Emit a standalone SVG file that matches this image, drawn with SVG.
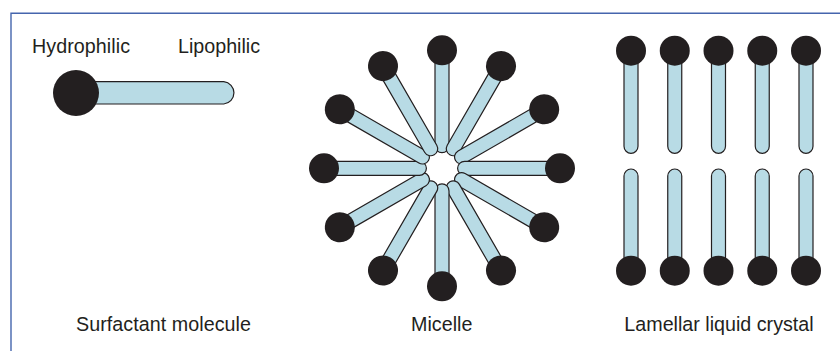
<svg xmlns="http://www.w3.org/2000/svg" xmlns:xlink="http://www.w3.org/1999/xlink" width="840" height="351" viewBox="0 0 840 351">
  <style>
    .frame { fill: none; stroke: #4565ad; stroke-width: 1.4; }
    .tail { fill: #b8dbe5; stroke: #231f20; stroke-width: 1.2; }
    .head { fill: #231f20; }
    .label { font-family: "Liberation Sans", Arial, sans-serif; font-size: 19.7px; fill: #231f20; }
  </style>
  <defs>
    <!-- one micelle arm, pointing up from the micelle centre -->
    <g id="arm">
      <path class="tail" d="M-7,-118 V-22.6 A7,7 0 0 0 7,-22.6 V-118 Z"/>
    </g>
    <circle id="armHead" class="head" cx="0" cy="-118" r="15"/>
    <!-- lamellar molecules: head up / head down -->
    <g id="lamTop">
      <path class="tail" d="M-7,50.7 V146.3 A7,7 0 0 0 7,146.3 V50.7 Z"/>
      <circle class="head" cx="0" cy="50.7" r="15"/>
    </g>
    <g id="lamBottom">
      <path class="tail" d="M-7,270.7 V176 A7,7 0 0 1 7,176 V270.7 Z"/>
      <circle class="head" cx="0" cy="270.7" r="15"/>
    </g>
  </defs>

  <rect width="840" height="351" fill="#ffffff"/>

  <!-- frame (top and left edges) -->
  <path class="frame" d="M11,351 V13.3 H840"/>

  <!-- single surfactant molecule -->
  <g id="surfactant">
    <path class="tail" d="M76,81.7 H223.8 A11.2,11.2 0 0 1 223.8,104 H76 Z"/>
    <circle class="head" cx="76" cy="93" r="23"/>
    <text class="label" x="32" y="52.5" textLength="98">Hydrophilic</text>
    <text class="label" x="178" y="52.5">Lipophilic</text>
    <text class="label" x="76" y="331" textLength="175">Surfactant molecule</text>
  </g>

  <!-- micelle: twelve arms every 30 degrees -->
  <g id="micelle">
    <g transform="translate(442,168.3)">
      <use xlink:href="#arm" transform="rotate(0)"/>
      <use xlink:href="#arm" transform="rotate(30)"/>
      <use xlink:href="#arm" transform="rotate(60)"/>
      <use xlink:href="#arm" transform="rotate(90)"/>
      <use xlink:href="#arm" transform="rotate(120)"/>
      <use xlink:href="#arm" transform="rotate(150)"/>
      <use xlink:href="#arm" transform="rotate(180)"/>
      <use xlink:href="#arm" transform="rotate(210)"/>
      <use xlink:href="#arm" transform="rotate(240)"/>
      <use xlink:href="#arm" transform="rotate(270)"/>
      <use xlink:href="#arm" transform="rotate(300)"/>
      <use xlink:href="#arm" transform="rotate(330)"/>
      <use xlink:href="#armHead" transform="rotate(0)"/>
      <use xlink:href="#armHead" transform="rotate(30)"/>
      <use xlink:href="#armHead" transform="rotate(60)"/>
      <use xlink:href="#armHead" transform="rotate(90)"/>
      <use xlink:href="#armHead" transform="rotate(120)"/>
      <use xlink:href="#armHead" transform="rotate(150)"/>
      <use xlink:href="#armHead" transform="rotate(180)"/>
      <use xlink:href="#armHead" transform="rotate(210)"/>
      <use xlink:href="#armHead" transform="rotate(240)"/>
      <use xlink:href="#armHead" transform="rotate(270)"/>
      <use xlink:href="#armHead" transform="rotate(300)"/>
      <use xlink:href="#armHead" transform="rotate(330)"/>
    </g>
    <text class="label" x="441.7" y="331" text-anchor="middle">Micelle</text>
  </g>

  <!-- lamellar liquid crystal: two facing layers of five molecules -->
  <g id="lamellar">
    <use xlink:href="#lamTop" x="631"/>
    <use xlink:href="#lamTop" x="674.75"/>
    <use xlink:href="#lamTop" x="718.5"/>
    <use xlink:href="#lamTop" x="762.25"/>
    <use xlink:href="#lamTop" x="806"/>
    <use xlink:href="#lamBottom" x="631"/>
    <use xlink:href="#lamBottom" x="674.75"/>
    <use xlink:href="#lamBottom" x="718.5"/>
    <use xlink:href="#lamBottom" x="762.25"/>
    <use xlink:href="#lamBottom" x="806"/>
    <text class="label" x="719" y="331" text-anchor="middle">Lamellar liquid crystal</text>
  </g>
</svg>
